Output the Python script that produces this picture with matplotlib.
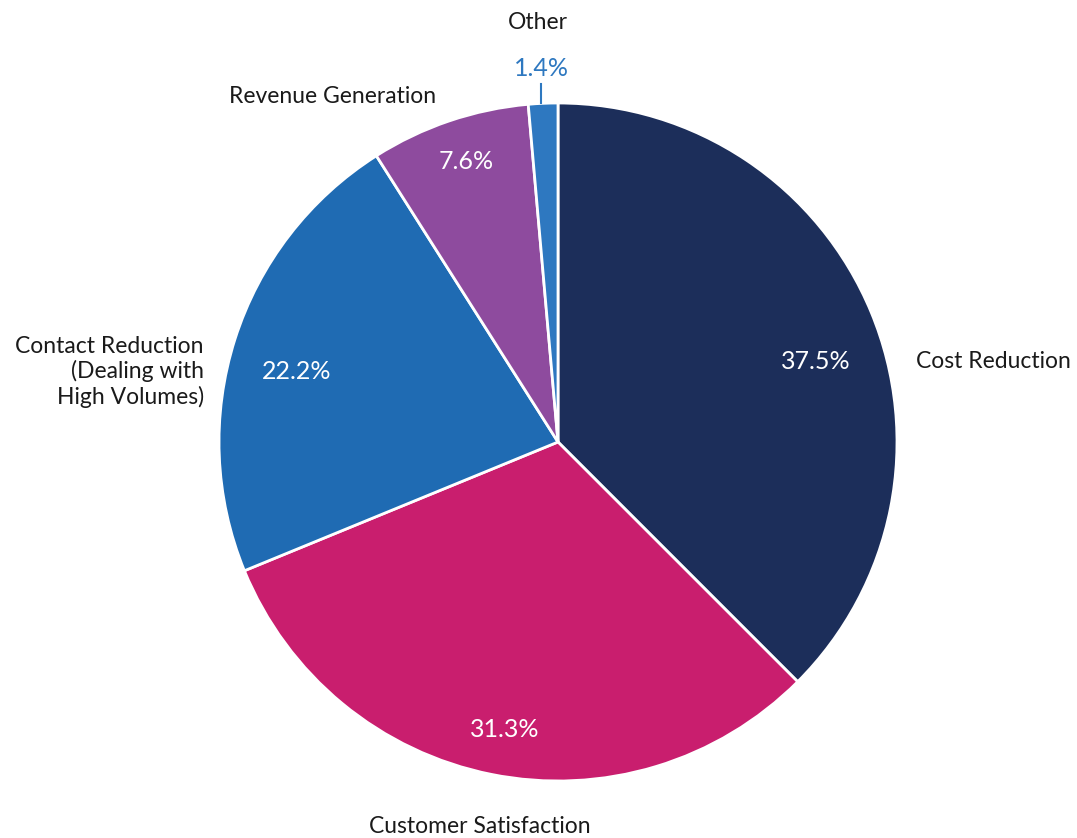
import matplotlib
matplotlib.use("Agg")
import matplotlib.pyplot as plt

categories = ["Cost Reduction", "Customer Satisfaction",
              "Contact Reduction\n(Dealing with\nHigh Volumes)",
              "Revenue Generation", "Other"]
shares = [37.5, 31.3, 22.2, 7.6, 1.4]
colors = ["#1c2e5a", "#c91e6e", "#1f6bb3", "#8e4b9e", "#2e78c0"]

plt.rcParams["font.family"] = ["Lato", "DejaVu Sans"]

fig = plt.figure(figsize=(10.77, 8.38), dpi=100)
cx, cy, r = 558, 442, 339
ax = fig.add_axes([(cx - r) / 1077, (838 - cy - r) / 838, 2 * r / 1077, 2 * r / 838])

ax.pie(shares, colors=colors, startangle=90, counterclock=False, radius=1,
       wedgeprops=dict(edgecolor="white", linewidth=2))
ax.set_xlim(-1, 1)
ax.set_ylim(-1, 1)
ax.set_aspect("equal")
ax.axis("off")

# percentage labels: (x, y, colour)
pct_pos = [(0.76, 0.236, "white"), (-0.157, -0.847, "white"),
           (-0.77, 0.207, "white"), (-0.27, 0.827, "white"),
           (-0.05, 1.103, "#2e78c0")]
for v, (x, y, c) in zip(shares, pct_pos):
    ax.text(x, y, f"{v}%", color=c, fontsize=18, ha="center", va="center",
            clip_on=False)

# category labels: (x, y, ha)
cat_pos = [(1.055, 0.236, "left"), (-0.23, -1.135, "center"),
           (-1.045, 0.207, "right"), (-0.36, 1.02, "right"),
           (-0.06, 1.237, "center")]
for name, (x, y, ha) in zip(categories, cat_pos):
    ax.text(x, y, name, color="#1a1a1a", fontsize=16.5, ha=ha, va="center",
            multialignment="right" if ha == "right" else "center",
            linespacing=1.2, clip_on=False)

# leader line for the small slice
ax.plot([-0.05, -0.05], [1.055, 1.0], color="#2e78c0", lw=1.5, clip_on=False)

fig.savefig("out.png", dpi=100, facecolor="white")
